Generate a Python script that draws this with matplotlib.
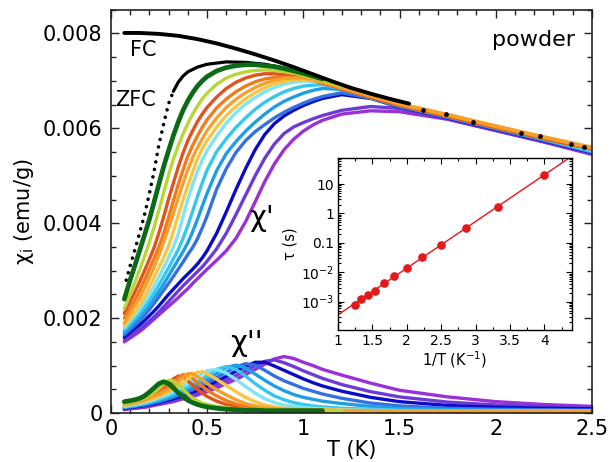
import numpy as np
import matplotlib
matplotlib.use('Agg')
import matplotlib.pyplot as plt
from matplotlib.ticker import MultipleLocator, FixedLocator, FixedFormatter, LogLocator, NullFormatter

nan = np.nan

# ---------------- data ----------------
T = [0.07, 0.10, 0.125, 0.15, 0.175, 0.20, 0.225, 0.25, 0.275, 0.30, 0.325, 0.35,
     0.375, 0.40, 0.425, 0.45, 0.475, 0.50, 0.55, 0.60, 0.65, 0.70, 0.75, 0.80,
     0.85, 0.90, 0.95, 1.00, 1.05, 1.10, 1.20, 1.35, 1.50, 1.75, 2.00, 2.25, 2.50]

names = ['purple', 'violet', 'dblue', 'blue', 'sky', 'cyan', 'lcyan',
         'red', 'dorange', 'gold', 'orange', 'yg', 'green']
colors = {'green': '#0b6a14', 'yg': '#b9d634', 'red': '#e2521d',
          'dorange': '#f07a1c', 'orange': '#f6a02c', 'gold': '#f8c644',
          'lcyan': '#7fe4f4', 'cyan': '#36c6ee', 'sky': '#1f9ee6',
          'blue': '#3470e2', 'dblue': '#0b0cc6', 'violet': '#6c3bd6',
          'purple': '#9a30d6'}

chi1 = {
 'green':  [.0024, .0028, .00311, .00343, .00375, .00408, .00445, .00483, .0052, .00553, .00585, .00613,
            .00638, .00658, .00675, .00689, .0070, .00709, .00721, .00728, .00732, .00734, .00734, .00732,
            .0073, .00726, .00721, .00716, .0071, .00704, nan, nan, nan, nan, nan, nan, nan],
 'yg':     [.0022, .0025, .00275, .00302, .0033, .00359, .00392, .00428, .00465, .00502, .00535, .00563,
            .00588, .0061, .0063, .00647, .00662, .00674, .00693, .00706, .00714, .00719, .00722, .00723,
            .00722, .0072, .00716, .00712, .00707, .00701, .00689, nan, nan, nan, nan, nan, nan],
 'red':    [.0021, .00235, .00255, .00277, .0030, .00324, .00349, .0038, .00414, .00451, .00485, .00518,
            .00548, .00574, .00595, .00614, .0063, .00644, .00666, .00684, .00697, .00706, .00712, .00715,
            .00715, .00713, .0071, .00706, .00701, .00695, .00683, .00665, .00648, .00625, .00601, .00578, .00556],
 'dorange':[.0020, .0022, .00238, .00258, .0028, .00303, .00326, .0035, .00379, .00412, .00447, .00481,
            .00512, .00541, .00564, .00584, .00602, .00618, .00643, .00662, .00677, .00689, .00698, .00704,
            .00707, .00708, .00707, .00705, .00701, .00696, .00684, .00667, .0065, .00627, .00603, .0058, .00558],
 'orange': [.0019, .00211, .00227, .00243, .00263, .00285, .00308, .00333, .00361, .0039, .00421, .00453,
            .00484, .00512, .00538, .00559, .00578, .00595, .00622, .00644, .00661, .00675, .00686, .00695,
            .00701, .00705, .00706, .00706, .00703, .00698, .00686, .00669, .00652, .00629, .00605, .00582, .0056],
 'gold':   [.00185, .00199, .00213, .00228, .00245, .00265, .00286, .00307, .00328, .00352, .00383, .00416,
            .00449, .00479, .00508, .00536, .00557, .00574, .00603, .00627, .00646, .00662, .00675, .00686,
            .00694, .00699, .00702, .00703, .00701, .00698, .00686, .00669, .00652, .00629, .00605, .00582, .0056],
 'lcyan':  [.0018, .00194, .00206, .00219, .00234, .0025, .00268, .00287, .00307, .00328, .0035, .00377,
            .00414, .0045, .00482, .00509, .00533, .00553, .00584, .00611, .00633, .00651, .00665, .00677,
            .00686, .00693, .00697, .0070, .00699, .00696, .00684, .00666, .00649, .00626, .00602, .00579, .00554],
 'cyan':   [.00175, .00188, .00199, .0021, .00223, .00237, .00253, .0027, .00288, .00306, .00325, .00344,
            .00368, .00395, .00425, .00456, .00485, .00512, .00551, .00578, .00602, .00622, .0064, .00655,
            .00667, .00677, .00684, .00689, .00691, .00692, .00683, .00665, .00648, .00625, .00601, .00577, .00552],
 'sky':    [.0017, .00182, .00192, .00202, .00214, .00227, .00241, .00256, .00272, .00289, .00306, .00323,
            .0034, .00359, .00382, .00408, .00436, .00463, .00511, .00547, .00572, .00594, .00613, .0063,
            .00645, .00657, .00666, .00674, .0068, .00684, .00682, .00664, .00647, .00624, .0060, .00576, .00551],
 'blue':   [.00165, .00176, .00185, .00195, .00206, .00218, .00231, .00245, .00259, .00273, .00288, .00303,
            .00318, .00334, .00349, .00367, .0039, .00415, .00472, .00515, .00549, .00574, .00593, .00608,
            .00622, .00634, .00644, .00653, .00661, .00667, .00675, .00664, .00646, .00623, .00599, .00575, .0055],
 'dblue':  [.0016, .0017, .00178, .00186, .00195, .00205, .00215, .00226, .00238, .0025, .00261, .00272,
            .00283, .00293, .00303, .00314, .00327, .00342, .00379, .00424, .00471, .00515, .00555, .00587,
            .0061, .00626, .00638, .00648, .00656, .00663, .00671, .00663, .00645, .00622, .00598, .00574, .00549],
 'violet': [.00155, .00163, .0017, .00177, .00185, .00194, .00203, .00213, .00224, .00235, .00246, .00257,
            .00268, .00278, .00288, .00298, .00308, .0032, .00346, .00379, .00418, .00459, .0050, .00537,
            .00567, .00589, .00603, .00612, .0062, .00627, .00638, .00646, .00642, .0062, .00596, .00572, .00547],
 'purple': [.0015, .00158, .00165, .00172, .0018, .00189, .00198, .00207, .00216, .00225, .00234, .00243,
            .00253, .00262, .00273, .00283, .00293, .00303, .00322, .00342, .00368, .00403, .00445, .00488,
            .00525, .00555, .00577, .00594, .00607, .00617, .0063, .00637, .00635, .00619, .00595, .00571, .00545],
}

chi2 = {
 'green':  [.00024, .00026, .00028, .00031, .00036, .00044, .00053, .00062, .00066, .00062, .00053, .00043,
            .00034, .00027, .00022, .00018, .00015, .00013, .0001, .00008, .00007, .00006, .00006, .00005,
            .00005, .00005, .00005, .00005, .00005, .00005, nan, nan, nan, nan, nan, nan, nan],
 'yg':     [.0002, .00023, .00025, .00028, .00032, .00037, .00044, .00052, .00061, .00069, .00068, .0006,
            .0005, .0004, .00032, .00026, .00021, .00018, .00014, .00011, .00009, .00008, .00007, .00006,
            .00006, .00005, .00005, .00005, .00005, .00005, .00005, nan, nan, nan, nan, nan, nan],
 'red':    [.00019, .00022, .00024, .00027, .00031, .00036, .00041, .00047, .00054, .00062, .00072, .00078,
            .00076, .00068, .00059, .0005, .00042, .00035, .00025, .00018, .00014, .00011, .00009, .00008,
            .00007, .00006, .00005, .00005, .00005, .00005, .00005, .00004, .00004, .00004, .00004, .00004, .00004],
 'dorange':[.00018, .00021, .00023, .00026, .00029, .00033, .00038, .00043, .00049, .00056, .00064, .00074,
            .00081, .0008, .00073, .00064, .00056, .00048, .00036, .00026, .00019, .00014, .00011, .00009,
            .00008, .00007, .00006, .00006, .00005, .00005, .00005, .00005, .00004, .00004, .00004, .00004, .00004],
 'orange': [.00017, .0002, .00022, .00024, .00027, .00031, .00035, .00039, .00044, .0005, .00057, .00065,
            .00075, .00083, .00083, .00077, .0007, .00062, .00049, .00038, .00028, .0002, .00015, .00011,
            .00009, .00008, .000075, .00007, .000065, .00006, .00005, .00005, .00005, .00005, .00005, .00005, .00005],
 'gold':   [.00016, .00018, .0002, .00022, .00025, .00028, .00031, .00035, .0004, .00045, .0005, .00057,
            .00064, .00072, .0008, .00086, .00087, .00083, .00071, .00058, .00045, .00033, .00024, .00017,
            .00013, .0001, .00009, .00008, .000075, .00007, .00006, .00005, .00005, .00005, .00005, .00005, .00005],
 'lcyan':  [.00014, .00016, .00018, .0002, .00022, .00025, .00028, .00032, .00036, .0004, .00045, .0005,
            .00056, .00062, .00069, .00076, .00083, .00089, .00092, .00084, .00071, .00056, .00042, .0003,
            .00022, .00017, .00014, .00012, .0001, .00009, .00007, .00006, .00005, .00005, .00005, .00005, .00005],
 'cyan':   [.00013, .00015, .00016, .00018, .0002, .00023, .00026, .00029, .00032, .00036, .0004, .00045,
            .0005, .00055, .0006, .00066, .00072, .00079, .00092, .00098, .00092, .00078, .00062, .00048,
            .00036, .00028, .00022, .00018, .00015, .00013, .0001, .00008, .00006, .00005, .00005, .00005, .00005],
 'sky':    [.00012, .00014, .00015, .00017, .00019, .00021, .00024, .00026, .00029, .00033, .00037, .00041,
            .00045, .0005, .00055, .0006, .00065, .00071, .00083, .00096, .00101, .00095, .00082, .00069,
            .00057, .00047, .00039, .00033, .00029, .00025, .0002, .00014, .0001, .00007, .00006, .00005, .00005],
 'blue':   [.00011, .00013, .00014, .00016, .00017, .00019, .00022, .00024, .00027, .0003, .00033, .00037,
            .00041, .00045, .00049, .00054, .00059, .00064, .00075, .00086, .00097, .00104, .00101, .0009,
            .00078, .00068, .0006, .00052, .00046, .0004, .00031, .00021, .00015, .0001, .00008, .00007, .00006],
 'dblue':  [.0001, .00012, .00013, .00014, .00016, .00018, .0002, .00022, .00025, .00027, .0003, .00033,
            .00037, .0004, .00044, .00048, .00052, .00057, .00067, .00077, .00088, .00098, .00107, .00107,
            .00099, .0009, .00081, .00072, .00064, .00057, .00046, .00033, .00024, .00016, .00012, .0001, .00009],
 'violet': [.00008, .0001, .00011, .00012, .00014, .00016, .00018, .0002, .00022, .00025, .00027, .0003,
            .00033, .00036, .0004, .00043, .00047, .00051, .0006, .00069, .00079, .00089, .0010, .00109,
            .00112, .00106, .00098, .00089, .00081, .00073, .0006, .00045, .00034, .00023, .00017, .00013, .00011],
 'purple': [.00007, .00009, .0001, .00011, .00012, .00014, .00016, .00018, .0002, .00022, .00024, .00027,
            .0003, .00032, .00035, .00038, .00042, .00045, .00053, .00062, .00071, .00081, .00092, .00103,
            .00114, .00119, .00115, .00107, .001, .00092, .0008, .00063, .00048, .00034, .00024, .00018, .00014],
}

FC_T = [0.07, 0.15, 0.25, 0.35, 0.45, 0.55, 0.65, 0.75, 0.85, 0.95, 1.05, 1.15, 1.25, 1.35, 1.45, 1.55]
FC = [.00801, .00801, .00799, .00795, .00788, .00779, .00768, .00756, .00743, .00729, .00714, .00699,
      .00685, .00673, .00662, .00652]

ZFC_T = [0.08, 0.10, 0.125, 0.15, 0.175, 0.20, 0.225, 0.25, 0.275, 0.30, 0.325, 0.35, 0.375, 0.40,
         0.45, 0.50, 0.60, 0.70, 0.80, 0.90, 1.00, 1.10, 1.20, 1.35]
ZFC = [.0028, .0031, .00344, .0038, .00418, .00462, .0051, .00566, .0061, .00652, .00678, .00697, .0071,
       .00719, .00729, .00735, .0074, .00739, .00735, .00727, .00715, .00703, .0069, .00672]
ZFC_TAIL_T = [1.62, 1.74, 1.88, 2.13, 2.23, 2.39, 2.46]
ZFC_TAIL = [0.00639, 0.0063, 0.00614, 0.00591, 0.00584, 0.00567, 0.00561]

INV_T = [1.25, 1.333, 1.429, 1.538, 1.667, 1.818, 2.0, 2.222, 2.5, 2.857, 3.333, 4.0]
TAU = [7.9e-4, 1.23e-3, 1.7e-3, 2.4e-3, 4.3e-3, 7.7e-3, 1.44e-2, 3.2e-2, 8.8e-2, 0.33, 1.7, 20.0]

XTICKS = [0, 0.5, 1, 1.5, 2, 2.5]
XTICKLABELS = ['0', '0.5', '1', '1.5', '2', '2.5']
YTICKS = [0, 0.002, 0.004, 0.006, 0.008]
YTICKLABELS = ['0', '0.002', '0.004', '0.006', '0.008']
IN_XTICKS = [1, 1.5, 2, 2.5, 3, 3.5, 4]
IN_XTICKLABELS = ['1', '1.5', '2', '2.5', '3', '3.5', '4']
IN_YTICKS = [1e-3, 1e-2, 0.1, 1, 10]
IN_YTICKLABELS = ['10$^{-3}$', '10$^{-2}$', '0.1', '1', '10']

# ---------------- figure ----------------
plt.rcParams['font.family'] = ['DejaVu Sans']
plt.rcParams['mathtext.fontset'] = 'dejavusans'
plt.rcParams['mathtext.default'] = 'regular'

fig = plt.figure(figsize=(6.09, 4.62), dpi=100)
ax = fig.add_axes([0.182, 0.106, 0.790, 0.873])

Tarr = np.array(T)
for n in names:
    lw = 3.4 if n == 'green' else 2.4
    for d in (chi1, chi2):
        ax.plot(Tarr, np.array(d[n]), color=colors[n], lw=lw,
                solid_capstyle='round', solid_joinstyle='round', zorder=2)

# FC
ax.plot(FC_T, FC, color='black', lw=2.8, solid_capstyle='round',
        solid_joinstyle='round', zorder=3)
# ZFC: dotted steep part, solid top part
zt = np.array(ZFC_T); zv = np.array(ZFC)
m1 = zt <= 0.325
ax.plot(zt[m1], zv[m1], color='black', lw=2.6, ls=(0, (0.01, 2.1)),
        dash_capstyle='round', zorder=1.5)
m2 = zt >= 0.325
ax.plot(zt[m2], zv[m2], color='black', lw=2.3, solid_capstyle='round',
        solid_joinstyle='round', zorder=1.5)
ax.plot(ZFC_TAIL_T, ZFC_TAIL, 'o', color='black', ms=2.4, zorder=4)

ax.set_xlim(0, 2.5)
ax.set_ylim(0, 0.0085)
ax.set_xticks(XTICKS)
ax.set_xticklabels(XTICKLABELS)
ax.set_yticks(YTICKS)
ax.set_yticklabels(YTICKLABELS)
ax.xaxis.set_minor_locator(MultipleLocator(0.1))
ax.yaxis.set_minor_locator(MultipleLocator(0.0005))
ax.tick_params(which='both', direction='in', top=True, right=True, width=1.0, colors='#222222')
ax.tick_params(which='major', length=6, labelsize=15, labelcolor='black')
ax.tick_params(which='minor', length=3.5)
ax.tick_params(axis='y', pad=6)
ax.tick_params(axis='x', pad=4)
for s in ax.spines.values():
    s.set_linewidth(1.2)
    s.set_color('#222222')

ax.set_xlabel('T (K)', fontsize=15, labelpad=1)
ax.set_ylabel('χ$_\\mathrm{i}$ (emu/g)', fontsize=15, labelpad=5)

ax.text(0.10, 0.00765, 'FC', fontsize=15, ha='left', va='center')
ax.text(0.02, 0.0066, 'ZFC', fontsize=15, ha='left', va='center')
ax.text(2.41, 0.00786, 'powder', fontsize=16, ha='right', va='center')
ax.text(0.72, 0.00412, "χ'", fontsize=21, ha='left', va='center')
ax.text(0.62, 0.00148, "χ''", fontsize=21, ha='left', va='center')

# ---------------- inset ----------------
ins = fig.add_axes([0.555, 0.286, 0.384, 0.372])
coef = np.polyfit(INV_T, np.log10(TAU), 1)
xf = np.array([1.0, 4.4])
ins.plot(xf, 10 ** np.polyval(coef, xf), color='#e8141c', lw=1.0, zorder=2)
ins.plot(INV_T, TAU, 'o', color='#e31a1c', ms=5.2, zorder=3)
ins.set_yscale('log')
ins.set_xlim(1, 4.4)
ins.set_ylim(1.1e-4, 77)
ins.xaxis.set_major_locator(FixedLocator(IN_XTICKS))
ins.xaxis.set_major_formatter(FixedFormatter(IN_XTICKLABELS))
ins.xaxis.set_minor_locator(MultipleLocator(0.25))
ins.yaxis.set_major_locator(FixedLocator(IN_YTICKS))
ins.yaxis.set_major_formatter(FixedFormatter(IN_YTICKLABELS))
ins.yaxis.set_minor_locator(LogLocator(base=10, subs=np.arange(2, 10), numticks=20))
ins.yaxis.set_minor_formatter(NullFormatter())
ins.tick_params(which='both', direction='in', top=True, right=True, width=0.8)
ins.tick_params(which='major', length=4.5, labelsize=10, pad=3)
ins.tick_params(which='minor', length=2.5)
for s in ins.spines.values():
    s.set_linewidth(1.0)
ins.set_xlabel('1/T (K$^{-1}$)', fontsize=10.5, labelpad=1)
ins.set_ylabel('τ (s)', fontsize=10.5, labelpad=2)

fig.savefig('out.png', dpi=100)
